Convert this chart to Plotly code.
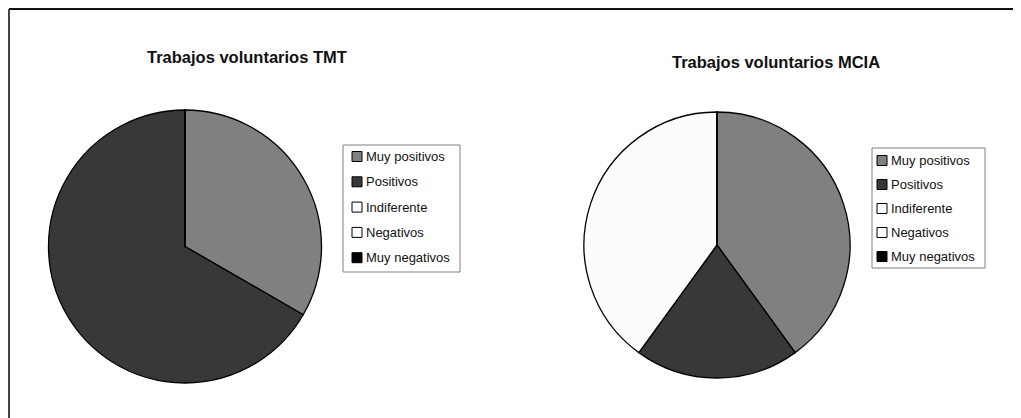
import plotly.graph_objects as go

# page offset (default body margin of the written HTML page)
OFF = 8
FW, FH = 1013, 410

categories = ["Muy positivos", "Positivos", "Indiferente", "Negativos", "Muy negativos"]
tmt_values = [1, 2, 0, 0, 0]
mcia_values = [2, 1, 2, 0, 0]
colors = ["#808080", "#383838", "#fcfcfc", "#ffffff", "#000000"]
titles = ["Trabajos voluntarios TMT", "Trabajos voluntarios MCIA"]

FONT = "Liberation Sans, Arial, sans-serif"


def fx(x):
    return (x - OFF) / FW


def fy(y):
    return 1 - (y - OFF) / FH


def dom(x0, x1, y0, y1):
    return dict(x=[fx(x0), fx(x1)], y=[fy(y1), fy(y0)])


fig = go.Figure()
fig.add_trace(go.Pie(
    labels=categories, values=tmt_values, sort=False, direction="clockwise", rotation=0,
    marker=dict(colors=colors, line=dict(color="#000000", width=1.3)),
    textinfo="none", hoverinfo="label+value", domain=dom(48, 322, 110, 383),
    showlegend=False,
))
fig.add_trace(go.Pie(
    labels=categories, values=mcia_values, sort=False, direction="clockwise", rotation=0,
    marker=dict(colors=colors, line=dict(color="#000000", width=1.3)),
    textinfo="none", hoverinfo="label+value", domain=dom(584, 850, 112, 378),
    showlegend=False,
))

shapes = [
    dict(type="line", xref="paper", yref="paper", x0=fx(9), x1=1.0, y0=fy(9), y1=fy(9),
         line=dict(color="#111111", width=2)),
    dict(type="line", xref="paper", yref="paper", x0=fx(9), x1=fx(9), y0=0, y1=fy(9),
         line=dict(color="#444444", width=2)),
]
annotations = [
    dict(text="<b>" + titles[0] + "</b>", x=fx(247), y=fy(57), xref="paper", yref="paper",
         showarrow=False, xanchor="center", yanchor="middle",
         font=dict(family=FONT, size=16.5, color="#111111")),
    dict(text="<b>" + titles[1] + "</b>", x=fx(776), y=fy(62), xref="paper", yref="paper",
         showarrow=False, xanchor="center", yanchor="middle",
         font=dict(family=FONT, size=16.5, color="#111111")),
]

# legend boxes: (left, top, right, bottom, first row center, row step)
legend_boxes = [
    (343, 145, 460, 272, 156.5, 25.3, 352),
    (872, 148, 985, 268, 160.5, 24.0, 877),
]
for (l, t, r, b, r0, step, sx) in legend_boxes:
    shapes.append(dict(type="rect", xref="paper", yref="paper", x0=fx(l), x1=fx(r), y0=fy(b), y1=fy(t),
                       line=dict(color="#808080", width=1), fillcolor="#ffffff", layer="above"))
    for i, (lab, col) in enumerate(zip(categories, colors)):
        cy = r0 + i * step
        shapes.append(dict(type="rect", xref="paper", yref="paper",
                           x0=fx(sx), x1=fx(sx + 10), y0=fy(cy + 5), y1=fy(cy - 5),
                           line=dict(color="#000000", width=1), fillcolor=col, layer="above"))
        annotations.append(dict(text=lab, x=fx(sx + 12), y=fy(cy), xref="paper", yref="paper",
                                showarrow=False, xanchor="left", yanchor="middle",
                                font=dict(family=FONT, size=13, color="#111111")))

fig.update_layout(
    width=FW, height=FH,
    margin=dict(l=0, r=0, t=0, b=0),
    paper_bgcolor="#ffffff", plot_bgcolor="#ffffff",
    showlegend=False,
    shapes=shapes,
    annotations=annotations,
)

fig.write_html("out.html")
